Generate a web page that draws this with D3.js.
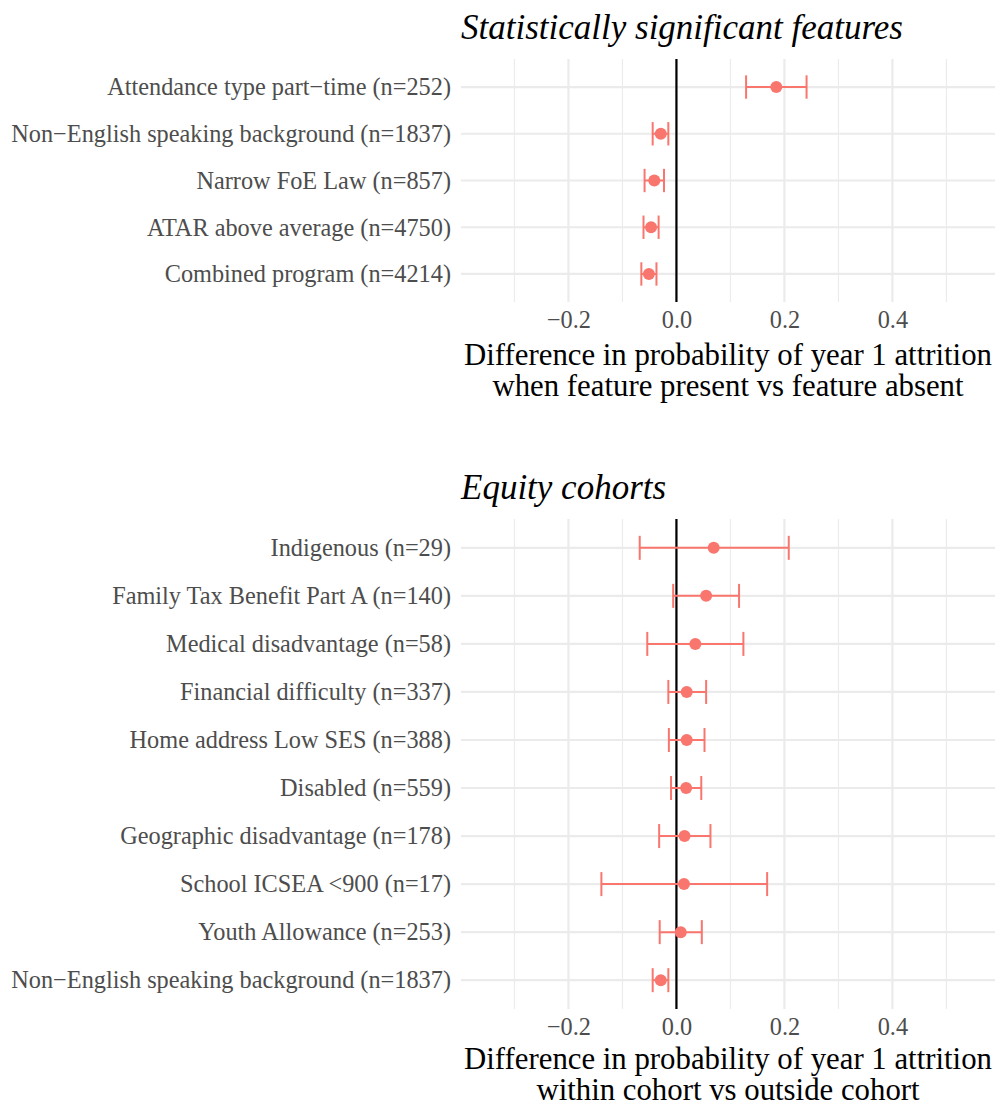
<!DOCTYPE html>
<html>
<head>
<meta charset="utf-8">
<script src="https://cdn.jsdelivr.net/npm/d3@7"></script>
<style>
  html, body { margin: 0; padding: 0; background: #fff; }
  svg { display: block; }
  text { font-family: "Liberation Serif", "Times New Roman", serif; }
</style>
</head>
<body>
<script>
// Panel 1: statistically significant features
const featLabels = [
  "Attendance type part\u2212time (n=252)",
  "Non\u2212English speaking background (n=1837)",
  "Narrow FoE Law (n=857)",
  "ATAR above average (n=4750)",
  "Combined program (n=4214)"
];
const featEst = [0.185, -0.029, -0.041, -0.047, -0.051];
const featLow = [0.129, -0.044, -0.059, -0.061, -0.065];
const featHigh = [0.241, -0.015, -0.023, -0.033, -0.037];

// Panel 2: equity cohorts
const cohortLabels = [
  "Indigenous (n=29)",
  "Family Tax Benefit Part A (n=140)",
  "Medical disadvantage (n=58)",
  "Financial difficulty (n=337)",
  "Home address Low SES (n=388)",
  "Disabled (n=559)",
  "Geographic disadvantage (n=178)",
  "School ICSEA <900 (n=17)",
  "Youth Allowance (n=253)",
  "Non\u2212English speaking background (n=1837)"
];
const cohortEst = [0.069, 0.055, 0.035, 0.019, 0.019, 0.018, 0.015, 0.014, 0.008, -0.029];
const cohortLow = [-0.068, -0.006, -0.054, -0.015, -0.014, -0.010, -0.032, -0.139, -0.031, -0.044];
const cohortHigh = [0.208, 0.116, 0.124, 0.055, 0.052, 0.046, 0.063, 0.168, 0.047, -0.015];

const xTicks = [-0.2, 0.0, 0.2, 0.4];
const xMinor = [-0.3, -0.1, 0.1, 0.3, 0.5];
const xDomain = [-0.399, 0.59];

const W = 995, H = 1104;
const accent = "#F8766D";

const svg = d3.select("body").append("svg")
  .attr("width", W).attr("height", H);

const fmt = v => (v < 0 ? "\u2212" : "") + Math.abs(v).toFixed(1);

function panel(cfg) {
  const { title, labels, est, low, high, top, bottom, axisLines, axisY } = cfg;
  const left = 461, right = 995;
  const x = d3.scaleLinear().domain(xDomain).range([left, right]);
  const y = d3.scalePoint().domain(labels).range([top, bottom]).padding(0.6);
  const g = svg.append("g");

  // minor vertical grid
  g.append("g").selectAll("line").data(xMinor).join("line")
    .attr("x1", d => x(d)).attr("x2", d => x(d))
    .attr("y1", top).attr("y2", bottom)
    .attr("stroke", "#EBEBEB").attr("stroke-width", 1.1);
  // major vertical grid
  g.append("g").selectAll("line").data(xTicks).join("line")
    .attr("x1", d => x(d)).attr("x2", d => x(d))
    .attr("y1", top).attr("y2", bottom)
    .attr("stroke", "#EBEBEB").attr("stroke-width", 2.2);
  // horizontal grid per category
  g.append("g").selectAll("line").data(labels).join("line")
    .attr("x1", left).attr("x2", right)
    .attr("y1", d => y(d)).attr("y2", d => y(d))
    .attr("stroke", "#EBEBEB").attr("stroke-width", 2.2);

  // reference line at zero
  g.append("line")
    .attr("x1", x(0)).attr("x2", x(0))
    .attr("y1", top).attr("y2", bottom)
    .attr("stroke", "#000").attr("stroke-width", 2.2);

  const cap = y.step() * 0.25;
  const rows = labels.map((l, i) => ({ l, e: est[i], lo: low[i], hi: high[i] }));
  const eb = g.append("g").attr("stroke", accent).attr("stroke-width", 2).attr("fill", "none");
  eb.selectAll("line.h").data(rows).join("line").attr("class", "h")
    .attr("x1", d => x(d.lo)).attr("x2", d => x(d.hi))
    .attr("y1", d => y(d.l)).attr("y2", d => y(d.l));
  eb.selectAll("line.l").data(rows).join("line").attr("class", "l")
    .attr("x1", d => x(d.lo)).attr("x2", d => x(d.lo))
    .attr("y1", d => y(d.l) - cap).attr("y2", d => y(d.l) + cap);
  eb.selectAll("line.r").data(rows).join("line").attr("class", "r")
    .attr("x1", d => x(d.hi)).attr("x2", d => x(d.hi))
    .attr("y1", d => y(d.l) - cap).attr("y2", d => y(d.l) + cap);
  g.append("g").selectAll("circle").data(rows).join("circle")
    .attr("cx", d => x(d.e)).attr("cy", d => y(d.l)).attr("r", 6)
    .attr("fill", accent);

  // y axis labels
  const yAxis = d3.axisLeft(y).tickSize(0).tickPadding(10);
  const ya = g.append("g").attr("transform", `translate(${left},0)`).call(yAxis);
  ya.select(".domain").remove();
  ya.selectAll("text").attr("font-size", 24.3).attr("fill", "#4D4D4D")
    .attr("font-family", "Liberation Serif, serif");

  // x axis labels
  const xAxis = d3.axisBottom(x).tickValues(xTicks).tickFormat(fmt).tickSize(0).tickPadding(9);
  const xa = g.append("g").attr("transform", `translate(0,${bottom})`).call(xAxis);
  xa.select(".domain").remove();
  xa.selectAll("text").attr("font-size", 24.3).attr("fill", "#4D4D4D")
    .attr("font-family", "Liberation Serif, serif");

  // axis title
  const cx = (left + right) / 2;
  axisLines.forEach((t, i) => {
    g.append("text").attr("x", cx).attr("y", bottom + axisY + i * 31)
      .attr("text-anchor", "middle").attr("font-size", 30.8).attr("fill", "#000")
      .text(t);
  });

  // panel title
  g.append("text").attr("x", left).attr("y", top - 20)
    .attr("font-size", 35).attr("font-style", "italic").attr("fill", "#000")
    .text(title);
}

panel({
  title: "Statistically significant features",
  labels: featLabels, est: featEst, low: featLow, high: featHigh,
  top: 59, bottom: 302, axisY: 63,
  axisLines: ["Difference in probability of year 1 attrition",
              "when feature present vs feature absent"]
});

panel({
  title: "Equity cohorts",
  labels: cohortLabels, est: cohortEst, low: cohortLow, high: cohortHigh,
  top: 519, bottom: 1009, axisY: 60,
  axisLines: ["Difference in probability of year 1 attrition",
              "within cohort vs outside cohort"]
});
</script>
</body>
</html>
